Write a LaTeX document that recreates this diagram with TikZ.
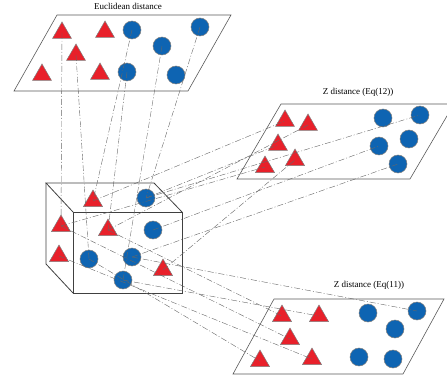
\documentclass[tikz,border=0pt]{standalone}
\usepackage{fontspec}
\setmainfont{Liberation Serif}
\usetikzlibrary{shapes.geometric}

\definecolor{trired}{RGB}{232,32,42}
\definecolor{dotblue}{RGB}{14,100,178}

\tikzset{
  tri/.style={regular polygon, regular polygon sides=3, minimum size=22pt,
    inner sep=0pt, fill=trired, draw=gray, line width=0.5pt},
  dot/.style={circle, minimum size=18pt, inner sep=0pt, fill=dotblue,
    draw=gray, line width=0.5pt},
  proj/.style={gray!80!black, line width=0.4pt,
    dash pattern=on 6pt off 2pt on 1pt off 2pt},
  plane/.style={draw=gray!70!black, line width=0.6pt},
  cubeedge/.style={draw=black!75, line width=0.8pt},
  caption/.style={font=\fontsize{9}{11}\selectfont},
}

\begin{document}
\begin{tikzpicture}[x=1pt,y=-1pt]
  \useasboundingbox (0,0) rectangle (447,377);
  \clip (0,0) rectangle (447,377);

  % planes
  \draw[plane] (57,15) -- (231,15) -- (188,91) -- (14,91) -- cycle;
  \draw[plane] (281,104) -- (454,104) -- (410,179) -- (237,179) -- cycle;
  \draw[plane] (274,299) -- (444,299) -- (403,374) -- (233,374) -- cycle;
  \node[caption] (euclLabel) at (128,6) {Euclidean distance};
  \node[caption] (eqTwelveLabel) at (358,92) {Z distance (Eq(12))};
  \node[caption] (eqElevenLabel) at (369,285) {Z distance (Eq(11))};

  % cube
  \draw[cubeedge] (73,212) rectangle (182,293);
  \draw[cubeedge] (73,212) -- (46,183) -- (154,183) -- (182,212);
  \draw[cubeedge] (46,183) -- (46,264) -- (73,293);

  % euclidean plane
  \node[tri] (et1) at (62,33) {}; \node[tri] (et2) at (105,32) {};
  \node[tri] (et3) at (76,55) {}; \node[tri] (et4) at (42,75) {};
  \node[tri] (et5) at (100,74) {};
  \node[dot] (ec1) at (132,30) {}; \node[dot] (ec2) at (200,27) {};
  \node[dot] (ec3) at (162,46) {}; \node[dot] (ec4) at (127,72) {};
  \node[dot] (ec5) at (176,75) {};

  % Z distance, Eq(12)
  \node[tri] (pt1) at (285,121) {}; \node[tri] (pt2) at (308,125) {};
  \node[tri] (pt3) at (278,145) {}; \node[tri] (pt4) at (295,160) {};
  \node[tri] (pt5) at (265,167) {};
  \node[dot] (pc1) at (383,118) {}; \node[dot] (pc2) at (420,115) {};
  \node[dot] (pc3) at (379,146) {}; \node[dot] (pc4) at (409,139) {};
  \node[dot] (pc5) at (398,164) {};

  % Z distance, Eq(11)
  \node[tri] (qt1) at (282,316) {}; \node[tri] (qt2) at (319,316) {};
  \node[tri] (qt3) at (290,339) {}; \node[tri] (qt4) at (260,361) {};
  \node[tri] (qt5) at (312,359) {};
  \node[dot] (qc1) at (368,313) {}; \node[dot] (qc2) at (417,311) {};
  \node[dot] (qc3) at (395,329) {}; \node[dot] (qc4) at (359,357) {};
  \node[dot] (qc5) at (393,359) {};

  % samples in the cube
  \node[tri] (t1) at (93,201) {}; \node[tri] (t2) at (61,226) {};
  \node[tri] (t3) at (108,230) {}; \node[tri] (t4) at (59,256) {};
  \node[tri] (t5) at (163,270) {};
  \node[dot] (c1) at (146,198) {}; \node[dot] (c2) at (153,230) {};
  \node[dot] (c3) at (89,259) {}; \node[dot] (c4) at (132,257) {};
  \node[dot] (c5) at (123,280) {};

  % projections
  \foreach \from/\to in {et1/t2, et3/c3, ec1/t1, ec4/t3, ec3/c5, ec2/c1}
    \draw[proj] (\from.center) -- (\to.center);
  \foreach \from/\to in {t1/pt1, t3/pt2, c1/pc2, c1/pt3, c2/pc3, c4/pc5,
      t5/pt4, t2/pt5}
    \draw[proj] (\from.center) -- (\to.center);
  \foreach \from/\to in {c4/qc2, c5/qt2, t3/qt1, t2/qt3, t4/qt5, c3/qt4}
    \draw[proj] (\from.center) -- (\to.center);
\end{tikzpicture}
\end{document}
